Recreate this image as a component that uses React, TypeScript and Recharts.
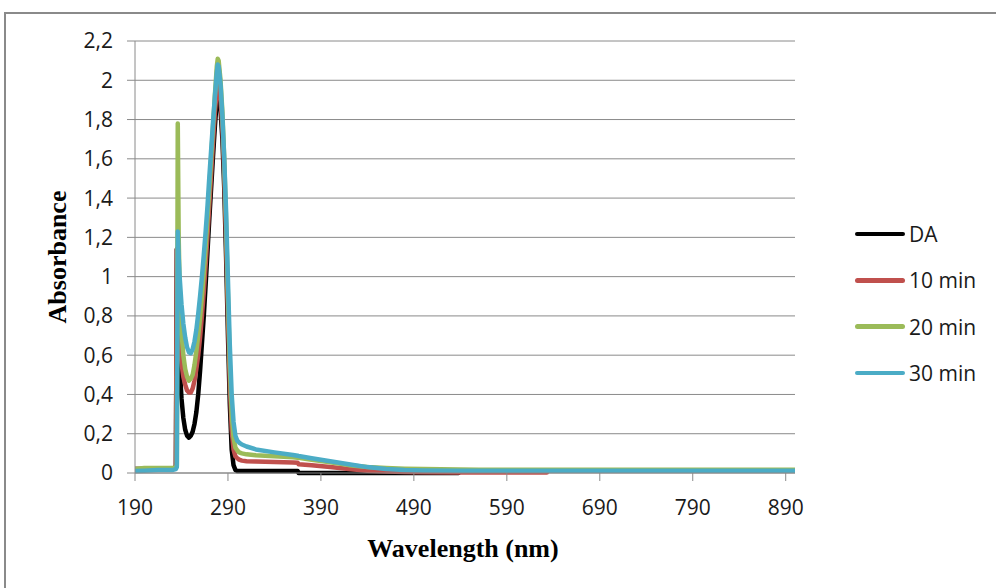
import { LineChart, Line, XAxis, YAxis, CartesianGrid, Label } from 'recharts';

// UV-Vis absorbance spectra, sampled more densely around the 235 nm spike and the 280 nm band
const wavelengths = [
  190, 200, 215, 230, 234, 235, 236, 237, 238, 240, 242, 244, 246, 248, 250, 252, 254, 256, 258, 260,
  262, 264, 266, 268, 270, 272, 274, 276, 278, 279, 280, 282, 284, 286, 288, 290, 292, 294, 296, 298,
  300, 302, 305, 310, 320, 340, 360, 365, 366, 380, 400, 420, 440, 460, 480, 500, 538, 560, 600, 633,
  700, 800, 900,
];

const absDA = [
  0.02, 0.02, 0.02, 0.02, 0.03, 1.14, 0.95, 0.72, 0.55, 0.38, 0.28, 0.22, 0.19, 0.18, 0.19, 0.21, 0.25, 0.31, 0.4, 0.52,
  0.66, 0.8, 0.96, 1.13, 1.3, 1.46, 1.62, 1.77, 1.9, 1.94, 1.93, 1.85, 1.7, 1.45, 1.1, 0.7, 0.35, 0.12, 0.04, 0.015,
  0.01, 0.01, 0.01, 0.01, 0.01, 0.01, 0.01, 0.01, 0.0, 0.0, 0.0, 0.0, 0.0, 0.0, 0.0, 0.0, 0.0, null, null, null,
  null, null, null,
];

const abs10 = [
  0.02, 0.02, 0.02, 0.02, 0.03, 1.14, 0.95, 0.8, 0.68, 0.56, 0.49, 0.45, 0.42, 0.41, 0.41, 0.43, 0.47, 0.53, 0.6, 0.69,
  0.8, 0.92, 1.06, 1.21, 1.37, 1.53, 1.69, 1.84, 1.95, 1.98, 1.97, 1.9, 1.76, 1.52, 1.18, 0.8, 0.45, 0.22, 0.12, 0.085,
  0.075, 0.068, 0.063, 0.06, 0.058, 0.056, 0.054, 0.052, 0.045, 0.04, 0.03, 0.02, 0.012, 0.008, 0.005, 0.004, 0.003, 0.003, 0.003, 0.003,
  null, null, null,
];

const abs20 = [
  0.02, 0.025, 0.025, 0.025, 0.03, 0.04, 1.78, 1.2, 0.95, 0.72, 0.6, 0.53, 0.49, 0.47, 0.48, 0.5, 0.55, 0.62, 0.7, 0.79,
  0.9, 1.02, 1.15, 1.3, 1.45, 1.61, 1.77, 1.93, 2.07, 2.11, 2.1, 2.0, 1.84, 1.6, 1.28, 0.9, 0.55, 0.3, 0.18, 0.13,
  0.115, 0.105, 0.1, 0.095, 0.09, 0.085, 0.08, 0.078, 0.077, 0.068, 0.055, 0.04, 0.03, 0.025, 0.022, 0.02, 0.018, 0.017, 0.017, 0.016,
  0.016, 0.016, 0.016,
];

const abs30 = [
  0.01, 0.012, 0.015, 0.015, 0.02, 0.03, 1.23, 1.1, 1.0, 0.86, 0.76, 0.69, 0.64, 0.615, 0.61, 0.63, 0.67, 0.73, 0.81, 0.9,
  1.0, 1.11, 1.23, 1.36, 1.51, 1.65, 1.79, 1.92, 2.04, 2.08, 2.07, 1.98, 1.82, 1.6, 1.33, 0.98, 0.65, 0.4, 0.26, 0.19,
  0.165, 0.155, 0.145, 0.135, 0.12, 0.105, 0.092, 0.088, 0.087, 0.075, 0.06, 0.045, 0.03, 0.02, 0.015, 0.013, 0.012, 0.012, 0.011, 0.011,
  0.011, 0.011, 0.011,
];

const xTicks = [190, 290, 390, 490, 590, 690, 790, 890];
const yTicks = [0, 0.2, 0.4, 0.6, 0.8, 1, 1.2, 1.4, 1.6, 1.8, 2, 2.2];

const series = [
  { key: 'da', name: 'DA', color: '#000000', values: absDA },
  { key: 'm10', name: '10 min', color: '#C0504D', values: abs10 },
  { key: 'm20', name: '20 min', color: '#9BBB59', values: abs20 },
  { key: 'm30', name: '30 min', color: '#4BACC6', values: abs30 },
];

const data = wavelengths.map((w, i) => {
  const row: Record<string, number | null> = { w };
  series.forEach((s) => {
    row[s.key] = s.values[i];
  });
  return row;
});

const tickFont = { fontFamily: "'Open Sans', sans-serif", fontSize: 21, fill: '#1a1a1a' };
const titleFont = "'Liberation Serif', 'Times New Roman', serif";

const fmt = (v: number) => String(Math.round(v * 10) / 10).replace('.', ',');

// legend sits to the right of the plot, outside the chart's layout box
function SpectrumLegend() {
  return (
    <div
      style={{
        position: 'absolute',
        left: 855,
        top: 211,
        fontFamily: "'Open Sans', sans-serif",
        fontSize: 21,
        color: '#1a1a1a',
      }}
    >
      {series.map((s) => (
        <div key={s.key} style={{ display: 'flex', alignItems: 'center', height: 46.3 }}>
          <span
            style={{
              display: 'inline-block',
              width: 50,
              height: 4.5,
              borderRadius: 3,
              background: s.color,
              marginRight: 4,
            }}
          />
          <span>{s.name}</span>
        </div>
      ))}
    </div>
  );
}

export default function App() {
  return (
    <div style={{ position: 'absolute', left: 0, top: 0, width: 996, height: 588, background: '#fff', overflow: 'hidden' }}>
      <div
        style={{
          position: 'absolute',
          left: 4,
          top: 12,
          width: 1010,
          height: 600,
          border: '2px solid #8a8a8a',
          boxSizing: 'border-box',
        }}
      />
      <LineChart
        width={996}
        height={588}
        data={data}
        margin={{ top: 41, right: 201, bottom: 85, left: 75 }}
        style={{ position: 'absolute', left: 0, top: 0 }}
      >
        <CartesianGrid vertical={false} stroke="#8a8a8a" strokeWidth={1} />
        <XAxis
          dataKey="w"
          type="number"
          domain={[190, 900]}
          ticks={xTicks}
          interval={0}
          height={30}
          stroke="#8a8a8a"
          tickSize={8}
          tickMargin={19}
          tick={tickFont}
          allowDataOverflow
        >
          <Label
            content={() => (
              <text x={463} y={557} textAnchor="middle" fontFamily={titleFont} fontWeight="bold" fontSize={26} fill="#000">
                Wavelength (nm)
              </text>
            )}
          />
        </XAxis>
        <YAxis
          type="number"
          domain={[0, 2.2]}
          ticks={yTicks}
          interval={0}
          width={60}
          stroke="#8a8a8a"
          tickSize={8}
          tickMargin={14}
          tick={tickFont}
          tickFormatter={fmt}
        >
          <Label
            content={() => (
              <text
                x={66}
                y={257}
                transform="rotate(-90 66 257)"
                textAnchor="middle"
                fontFamily={titleFont}
                fontWeight="bold"
                fontSize={26}
                fill="#000"
              >
                Absorbance
              </text>
            )}
          />
        </YAxis>
        {series.map((s) => (
          <Line
            key={s.key}
            dataKey={s.key}
            name={s.name}
            type="linear"
            stroke={s.color}
            strokeWidth={4.5}
            strokeLinejoin="round"
            strokeLinecap="round"
            dot={false}
            activeDot={false}
            isAnimationActive={false}
          />
        ))}
      </LineChart>
      <SpectrumLegend />
    </div>
  );
}
